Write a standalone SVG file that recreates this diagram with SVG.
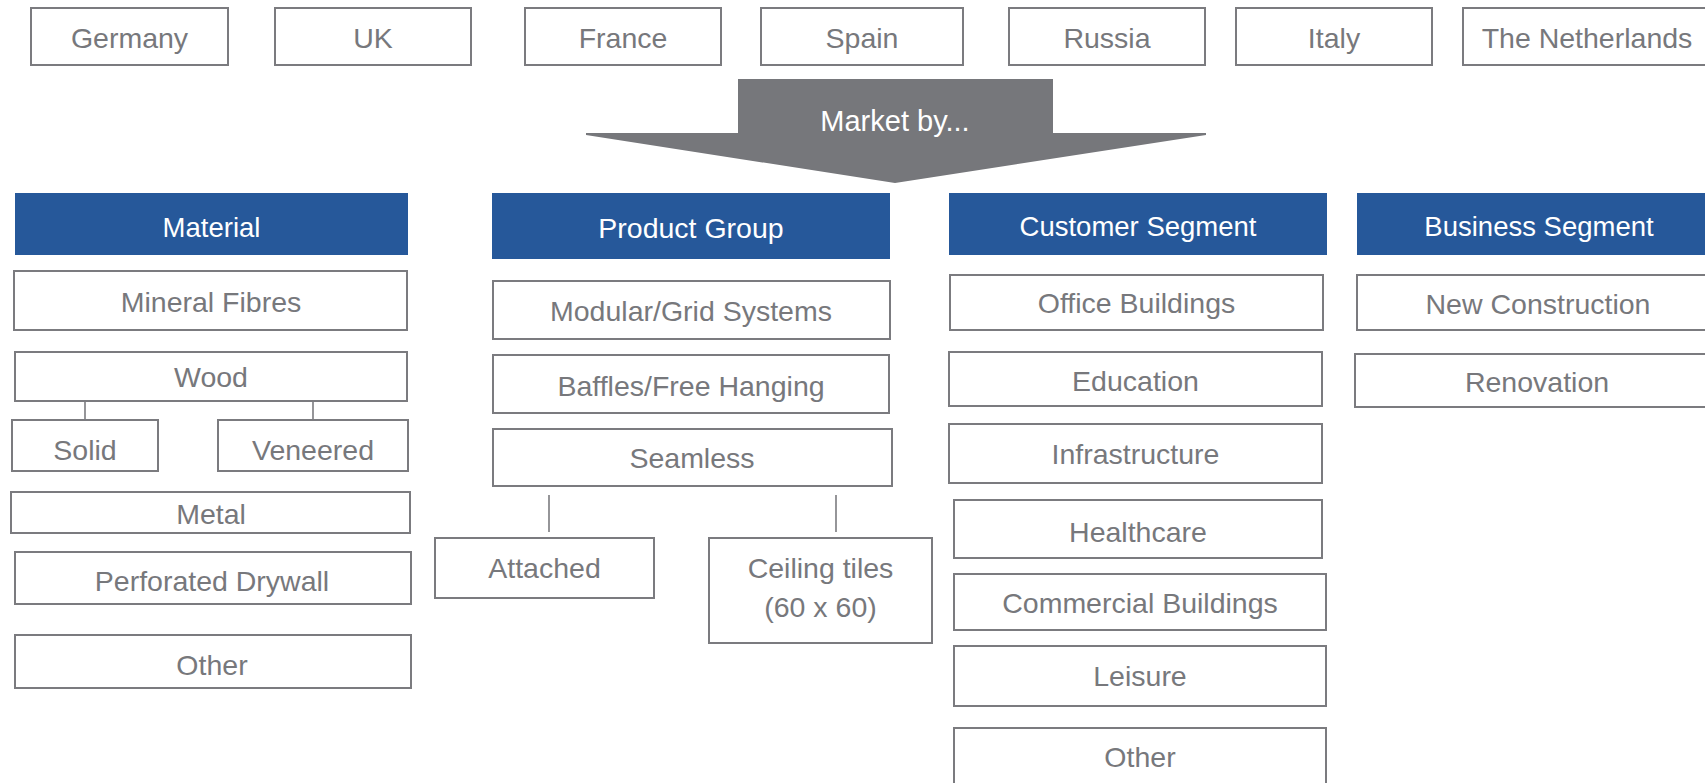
<svg xmlns="http://www.w3.org/2000/svg" width="1705" height="783" viewBox="0 0 1705 783">
<style>
.box{fill:#fff;stroke:#7b7b7f;stroke-width:2}
.hdr{fill:#26589a}
.t{font-family:"Liberation Sans",Arial,sans-serif;font-size:28.5px;fill:#77787c;text-anchor:middle}
.ht{font-family:"Liberation Sans",Arial,sans-serif;font-size:27.5px;fill:#fff;text-anchor:middle}
.ln{stroke:#7b7b7f;stroke-width:1.6;fill:none}
</style>
<rect width="1705" height="783" fill="#fff"/>
<g id="countries">
<g id="germany"><rect class="box" x="31" y="8" width="197" height="57"/><text class="t" x="129.5" y="48">Germany</text></g>
<g id="uk"><rect class="box" x="275" y="8" width="196" height="57"/><text class="t" x="373" y="48">UK</text></g>
<g id="france"><rect class="box" x="525" y="8" width="196" height="57"/><text class="t" x="623" y="48">France</text></g>
<g id="spain"><rect class="box" x="761" y="8" width="202" height="57"/><text class="t" x="862" y="48">Spain</text></g>
<g id="russia"><rect class="box" x="1009" y="8" width="196" height="57"/><text class="t" x="1107" y="48">Russia</text></g>
<g id="italy"><rect class="box" x="1236" y="8" width="196" height="57"/><text class="t" x="1334" y="48">Italy</text></g>
<g id="netherlands"><rect class="box" x="1463" y="8" width="249" height="57"/><text class="t" x="1587" y="48">The Netherlands</text></g>
</g>
<g id="market-arrow">
<polygon points="738,79 1053,79 1053,133 1206,133 1206,135 895,183 586,135 586,133 738,133" fill="#76777b"/>
<text class="ht" x="895" y="131" style="font-size:29px">Market by...</text>
</g>
<g id="connectors">
<line class="ln" x1="85" y1="402" x2="85" y2="419"/>
<line class="ln" x1="313" y1="402" x2="313" y2="419"/>
<line class="ln" x1="549" y1="495" x2="549" y2="532"/>
<line class="ln" x1="836" y1="495" x2="836" y2="532"/>
</g>
<g id="material">
<g id="material-hdr"><rect class="hdr" x="15" y="193" width="393" height="62"/><text class="ht" x="211.5" y="237">Material</text></g>
<g id="mineral"><rect class="box" x="14" y="271" width="393" height="59"/><text class="t" x="211" y="311.5">Mineral Fibres</text></g>
<g id="wood"><rect class="box" x="15" y="352" width="392" height="49"/><text class="t" x="211" y="387">Wood</text></g>
<g id="solid"><rect class="box" x="12" y="420" width="146" height="51"/><text class="t" x="85" y="460">Solid</text></g>
<g id="veneered"><rect class="box" x="218" y="420" width="190" height="51"/><text class="t" x="313" y="460">Veneered</text></g>
<g id="metal"><rect class="box" x="11" y="492" width="399" height="41"/><text class="t" x="211" y="523.5">Metal</text></g>
<g id="drywall"><rect class="box" x="15" y="552" width="396" height="52"/><text class="t" x="212" y="591">Perforated Drywall</text></g>
<g id="mat-other"><rect class="box" x="15" y="635" width="396" height="53"/><text class="t" x="212" y="675">Other</text></g>
</g>
<g id="product">
<g id="product-hdr"><rect class="hdr" x="492" y="193" width="398" height="66"/><text class="ht" x="691" y="238" style="font-size:28.5px">Product Group</text></g>
<g id="modular"><rect class="box" x="493" y="281" width="397" height="58"/><text class="t" x="691" y="321">Modular/Grid Systems</text></g>
<g id="baffles"><rect class="box" x="493" y="355" width="396" height="58"/><text class="t" x="691" y="395.5">Baffles/Free Hanging</text></g>
<g id="seamless"><rect class="box" x="493" y="429" width="399" height="57"/><text class="t" x="692" y="468">Seamless</text></g>
<g id="attached"><rect class="box" x="435" y="538" width="219" height="60"/><text class="t" x="544.5" y="578">Attached</text></g>
<g id="ceiling"><rect class="box" x="709" y="538" width="223" height="105"/><text class="t" x="820.5" y="578">Ceiling tiles</text><text class="t" x="820.5" y="617">(60 x 60)</text></g>
</g>
<g id="customer">
<g id="customer-hdr"><rect class="hdr" x="949" y="193" width="378" height="62"/><text class="ht" x="1138" y="236">Customer Segment</text></g>
<g id="office"><rect class="box" x="950" y="275" width="373" height="55"/><text class="t" x="1136.5" y="313">Office Buildings</text></g>
<g id="education"><rect class="box" x="949" y="352" width="373" height="54"/><text class="t" x="1135.5" y="390.5">Education</text></g>
<g id="infrastructure"><rect class="box" x="949" y="424" width="373" height="59"/><text class="t" x="1135.5" y="464">Infrastructure</text></g>
<g id="healthcare"><rect class="box" x="954" y="500" width="368" height="58"/><text class="t" x="1138" y="541.5">Healthcare</text></g>
<g id="commercial"><rect class="box" x="954" y="574" width="372" height="56"/><text class="t" x="1140" y="612.5">Commercial Buildings</text></g>
<g id="leisure"><rect class="box" x="954" y="646" width="372" height="60"/><text class="t" x="1140" y="685.5">Leisure</text></g>
<g id="cust-other"><rect class="box" x="954" y="728" width="372" height="62"/><text class="t" x="1140" y="767">Other</text></g>
</g>
<g id="business">
<g id="business-hdr"><rect class="hdr" x="1357" y="193" width="365" height="62"/><text class="ht" x="1539" y="236">Business Segment</text></g>
<g id="newcon"><rect class="box" x="1357" y="275" width="365" height="55"/><text class="t" x="1538" y="314">New Construction</text></g>
<g id="renovation"><rect class="box" x="1355" y="354" width="367" height="53"/><text class="t" x="1537" y="391.5">Renovation</text></g>
</g>
</svg>
